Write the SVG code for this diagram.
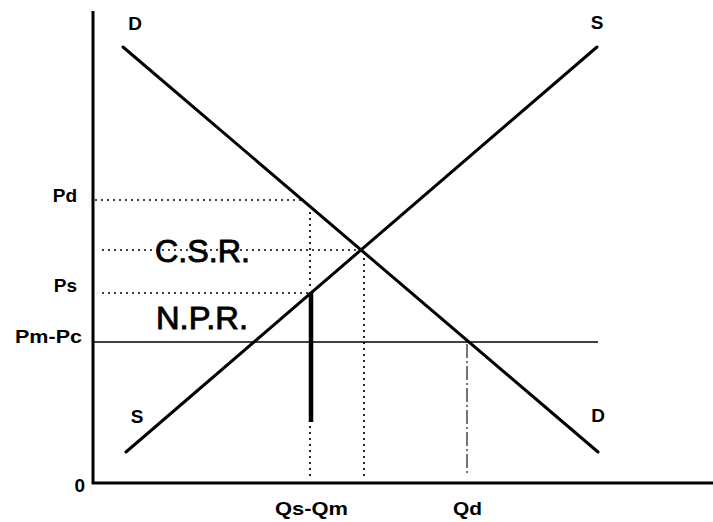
<svg xmlns="http://www.w3.org/2000/svg" width="713" height="522" viewBox="0 0 713 522">
<style>
.lab{font-family:"Liberation Sans",Arial,sans-serif;font-weight:bold;font-size:19px;fill:#000}
.big{font-family:"Liberation Sans",Arial,sans-serif;font-size:32px;fill:#000;stroke:#000;stroke-width:0.9}
.dot{stroke:#000;stroke-width:1.7;stroke-dasharray:2 4;fill:none}
.curve{stroke:#000;stroke-width:3;fill:none;stroke-linecap:round}
</style>
<rect width="713" height="522" fill="#fff"/>
<g id="axes" stroke="#000" stroke-width="3" fill="none">
<line x1="93" y1="11" x2="93" y2="484"/>
<line x1="92" y1="483" x2="713" y2="483"/>
</g>
<g id="guides">
<line class="dot" x1="95" y1="200" x2="303" y2="200"/>
<line class="dot" x1="310" y1="212" x2="310" y2="290"/>
<line class="dot" x1="310" y1="426" x2="310" y2="479"/>
<line class="dot" x1="102" y1="250" x2="361" y2="250"/>
<line class="dot" x1="364" y1="252" x2="364" y2="479"/>
<line class="dot" x1="102" y1="293" x2="309" y2="293"/>
<line x1="93" y1="342" x2="598" y2="342" stroke="#000" stroke-width="1.5"/>
<line x1="467" y1="344" x2="467" y2="476" stroke="#000" stroke-width="1.1" stroke-dasharray="14 3 2 3"/>
</g>
<g id="connectors">
<line id="demand" class="curve" x1="123" y1="47" x2="598" y2="452"/>
<line id="supply" class="curve" x1="126" y1="452" x2="597" y2="47"/>
<line id="npr-bar" x1="311" y1="292" x2="311" y2="422" stroke="#000" stroke-width="4.5"/>
</g>
<g id="curve-labels">
<text class="lab" x="135" y="30" text-anchor="middle">D</text>
<text class="lab" x="597" y="29" text-anchor="middle">S</text>
<text class="lab" x="137" y="423" text-anchor="middle">S</text>
<text class="lab" x="598" y="422" text-anchor="middle">D</text>
</g>
<g id="axis-labels">
<text class="lab" x="77" y="202" text-anchor="end">Pd</text>
<text class="lab" x="77" y="292" text-anchor="end">Ps</text>
<text class="lab" x="82" y="343" text-anchor="end" textLength="67" lengthAdjust="spacingAndGlyphs">Pm-Pc</text>
<text class="lab" x="85" y="492" text-anchor="end">0</text>
<text class="lab" x="275" y="515" textLength="73" lengthAdjust="spacingAndGlyphs">Qs-Qm</text>
<text class="lab" x="453" y="515" textLength="29" lengthAdjust="spacingAndGlyphs">Qd</text>
</g>
<g id="region-labels">
<text class="big" x="155" y="262" textLength="95" lengthAdjust="spacingAndGlyphs">C.S.R.</text>
<text class="big" x="156" y="329" textLength="92" lengthAdjust="spacingAndGlyphs">N.P.R.</text>
</g>
</svg>
